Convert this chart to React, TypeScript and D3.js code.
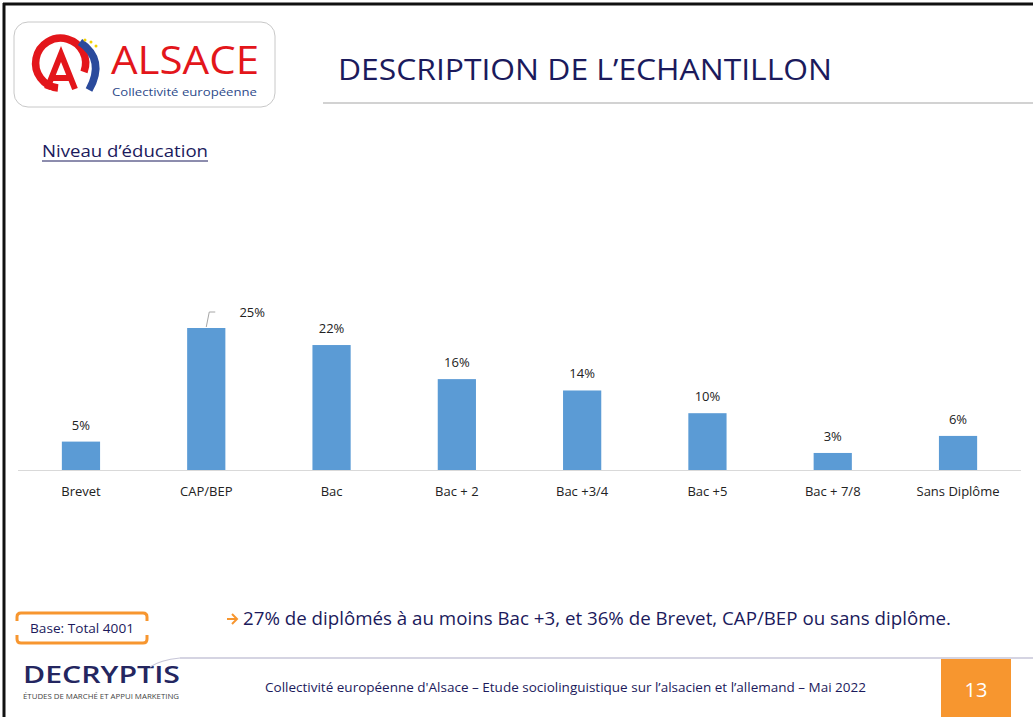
import React from "react";
import * as d3 from "d3";

const categories = ["Brevet", "CAP/BEP", "Bac", "Bac + 2", "Bac +3/4", "Bac +5", "Bac + 7/8", "Sans Diplôme"];
const values = [5, 25, 22, 16, 14, 10, 3, 6];
const valueLabels = ["5%", "25%", "22%", "16%", "14%", "10%", "3%", "6%"];

const W = 1033;
const H = 717;
const NAVY = "#1b1a5c";
const ORANGE = "#f7962f";
const BAR = "#5b9bd5";

export default function App() {
  const x = d3.scaleBand<string>().domain(categories).range([18, 1021]).paddingInner(0.695).paddingOuter(0.35);
  const y = d3.scaleLinear().domain([0, 25]).range([470, 328]);
  const bw = x.bandwidth();

  return (
    <svg width={W} height={H} style={{ position: "absolute", left: 0, top: 0, background: "#fff" }}
      fontFamily="'Open Sans', 'Noto Sans', sans-serif">
      <rect x={0} y={0} width={W} height={H} fill="#fff" />
      {/* slide frame */}
      <line x1={3} y1={4} x2={W} y2={4} stroke="#111" strokeWidth={3} />
      <line x1={4} y1={3} x2={4} y2={H} stroke="#111" strokeWidth={3} />

      {/* Logo */}
      <rect x={14} y={22} width={261} height={85} rx={14} fill="#fff" stroke="#c8c8c8" strokeWidth={1} />
      <g>
        <path d="M 58 88 A 25 25 0 1 1 84 72" fill="none" stroke="#e3161b" strokeWidth={7.5} />
        <path d="M 47 89 L 61 54 L 75 89 M 52 78 L 70 78" fill="none" stroke="#e3161b" strokeWidth={6} />
        <path d="M 80 42 Q 106 60 89 90" fill="none" stroke="#2a4a9c" strokeWidth={7.5} />
        <circle cx={85} cy={40} r={1.5} fill="#f2d200" />
        <circle cx={91} cy={42} r={1.5} fill="#f2d200" />
        <circle cx={96} cy={46} r={1.5} fill="#f2d200" />
      </g>
      <text x={111} y={74} fontSize={38} fill="#e3161b" textLength={148} lengthAdjust="spacingAndGlyphs">ALSACE</text>
      <text x={112} y={96} fontSize={11.5} fill="#2d4a8a" textLength={145} lengthAdjust="spacingAndGlyphs">Collectivité européenne</text>

      {/* Title */}
      <text x={338} y={80} fontSize={30} fill={NAVY} textLength={494} lengthAdjust="spacingAndGlyphs">DESCRIPTION DE L’ECHANTILLON</text>
      <line x1={323} y1={103} x2={W} y2={103} stroke="#a6a6a6" strokeWidth={1.2} />

      {/* Subtitle */}
      <text x={42} y={157} fontSize={17} fill={NAVY} textLength={166} lengthAdjust="spacingAndGlyphs">Niveau d’éducation</text>
      <line x1={42} y1={161} x2={208} y2={161} stroke={NAVY} strokeWidth={1} />

      {/* Bars */}
      <line x1={18} y1={470.5} x2={1021} y2={470.5} stroke="#d9d9d9" strokeWidth={1} />
      {categories.map((c, i) => {
        const bx = x(c)!;
        const by = y(values[i]);
        const cx = bx + bw / 2;
        const isOffset = i === 1;
        return (
          <g key={c}>
            <rect x={bx} y={by} width={bw} height={470 - by} fill={BAR} />
            {isOffset ? (
              <>
                <polyline points={`${cx},${by - 1} ${cx + 3},${by - 16} ${cx + 9},${by - 16}`} fill="none" stroke="#a6a6a6" strokeWidth={1} />
                <text x={cx + 46} y={by - 11} fontSize={13} fill="#222" textAnchor="middle">{valueLabels[i]}</text>
              </>
            ) : (
              <text x={cx} y={by - 12} fontSize={13} fill="#222" textAnchor="middle">{valueLabels[i]}</text>
            )}
            <text x={cx} y={496} fontSize={13} fill="#222" textAnchor="middle">{c}</text>
          </g>
        );
      })}

      {/* Base box */}
      <path d="M 17 621 L 17 617 Q 17 613 21 613 L 143 613 Q 147 613 147 617 L 147 621" fill="none" stroke={ORANGE} strokeWidth={3} />
      <path d="M 17 635 L 17 639 Q 17 643 21 643 L 143 643 Q 147 643 147 639 L 147 635" fill="none" stroke={ORANGE} strokeWidth={3} />
      <text x={82} y={633} fontSize={13} fill={NAVY} textAnchor="middle" textLength={104} lengthAdjust="spacingAndGlyphs">Base: Total 4001</text>

      {/* Key finding */}
      <path d="M 227 619 L 236 619 M 232 614 L 237 619 L 232 624" fill="none" stroke={ORANGE} strokeWidth={2} />
      <text x={243} y={625} fontSize={19} fill={NAVY} textLength={708} lengthAdjust="spacingAndGlyphs">27% de diplômés à au moins Bac +3, et 36% de Brevet, CAP/BEP ou sans diplôme.</text>

      {/* Footer */}
      <line x1={180} y1={658} x2={W} y2={658} stroke="#c7c6d8" strokeWidth={1.5} />
      <text x={23} y={683} fontSize={23} fontWeight={600} fill="#242660" textLength={157} lengthAdjust="spacingAndGlyphs">DECRYPTIS</text>
      <path d="M 150 667 Q 160 660 180 658" fill="none" stroke="#c7c6d8" strokeWidth={1.2} />
      <text x={23} y={699} fontSize={6.5} fill="#444" textLength={156} lengthAdjust="spacingAndGlyphs">ÉTUDES DE MARCHÉ ET APPUI MARKETING</text>
      <text x={265} y={692} fontSize={12} fill={NAVY} textLength={601} lengthAdjust="spacingAndGlyphs">Collectivité européenne d'Alsace – Etude sociolinguistique sur l’alsacien et l’allemand – Mai 2022</text>
      <rect x={941} y={659} width={70} height={58} fill={ORANGE} />
      <text x={976} y={697} fontSize={20} fill="#fff" textAnchor="middle">13</text>
    </svg>
  );
}
